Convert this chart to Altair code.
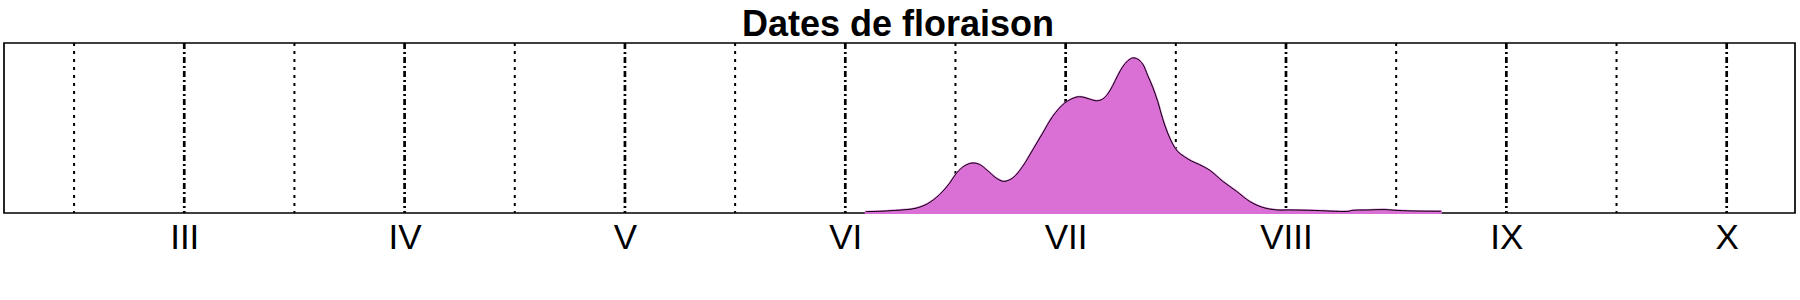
import altair as alt
import pandas as pd

# Density of flowering dates (x in month units: 3 = March, 7.5 = mid-July)
dens_x = [6.093, 6.156, 6.224, 6.279, 6.324, 6.374, 6.428, 6.474, 6.505, 6.542,
          6.578, 6.610, 6.645, 6.685, 6.719, 6.760, 6.805, 6.851, 6.896, 6.941,
          6.996, 7.050, 7.077, 7.109, 7.141, 7.168, 7.191, 7.214, 7.237, 7.259,
          7.282, 7.304, 7.327, 7.350, 7.372, 7.395, 7.418, 7.440, 7.463, 7.486,
          7.508, 7.540, 7.572, 7.608, 7.654, 7.713, 7.776, 7.835, 7.894, 7.958,
          8.017, 8.130, 8.226, 8.285, 8.299, 8.376, 8.449, 8.494, 8.571, 8.703]
dens_y = [0.008, 0.010, 0.015, 0.020, 0.029, 0.055, 0.108, 0.176, 0.235, 0.278,
          0.294, 0.285, 0.250, 0.205, 0.186, 0.206, 0.274, 0.372, 0.470, 0.568,
          0.647, 0.682, 0.682, 0.670, 0.660, 0.670, 0.700, 0.750, 0.810, 0.860,
          0.895, 0.912, 0.905, 0.875, 0.810, 0.740, 0.655, 0.555, 0.470, 0.405,
          0.362, 0.330, 0.305, 0.284, 0.251, 0.186, 0.127, 0.068, 0.033, 0.018,
          0.018, 0.015, 0.010, 0.010, 0.015, 0.018, 0.020, 0.016, 0.012, 0.010]

month_pos = [3, 4, 5, 6, 7, 8, 9, 10]
month_labels = ["III", "IV", "V", "VI", "VII", "VIII", "IX", "X"]
half_pos = [2.5, 3.5, 4.5, 5.5, 6.5, 7.5, 8.5, 9.5]
title_text = "Dates de floraison"

W, H = 1791, 170
FONT = "Liberation Sans"

dens = pd.DataFrame({"x": dens_x, "y": dens_y})
months = pd.DataFrame({"x": month_pos})
halves = pd.DataFrame({"x": half_pos})

label_map = "{" + ",".join(f"'{p}':'{l}'" for p, l in zip(month_pos, month_labels)) + "}"

xscale = alt.Scale(domain=[2.182, 10.31], nice=False, zero=False)
yscale = alt.Scale(domain=[0, 1], nice=False)

xaxis = alt.Axis(values=month_pos, labelExpr=f"{label_map}[datum.value]",
                 domain=False, ticks=False, grid=False, title=None,
                 labelFontSize=35, labelFont=FONT, labelColor="black",
                 labelPadding=7, labelFlush=False, labelOverlap=False)

month_rules = alt.Chart(months).mark_rule(
    color="black", strokeWidth=2.7, strokeDash=[6, 3, 2, 3]
).encode(x=alt.X("x:Q", scale=xscale, axis=xaxis))

half_rules = alt.Chart(halves).mark_rule(
    color="black", strokeWidth=2, strokeDash=[3, 5]
).encode(x=alt.X("x:Q", scale=xscale))

area = alt.Chart(dens).mark_area(
    color="#DA70D6", stroke="#DA70D6", strokeWidth=2, interpolate="catmull-rom"
).encode(x=alt.X("x:Q", scale=xscale),
         y=alt.Y("y:Q", scale=yscale, axis=None))

line = alt.Chart(dens).mark_line(
    color="black", strokeWidth=1, interpolate="catmull-rom"
).encode(x=alt.X("x:Q", scale=xscale),
         y=alt.Y("y:Q", scale=yscale, axis=None))

title = alt.Chart(pd.DataFrame({"t": [title_text]})).mark_text(
    font=FONT, fontSize=36, fontWeight="bold", color="black",
    align="center", baseline="alphabetic"
).encode(text="t:N", x=alt.value(W / 2 - 1.5), y=alt.value(-7))

chart = alt.layer(month_rules, half_rules, area, line, title).properties(
    width=W, height=H,
    background="white",
    autosize=alt.AutoSizeParams(type="none"),
    padding={"left": 4, "top": 43, "right": 5, "bottom": 87},
).configure_view(stroke="black", strokeWidth=1.7)

chart.save("out.html", embed_options={"renderer": "svg", "actions": False})
